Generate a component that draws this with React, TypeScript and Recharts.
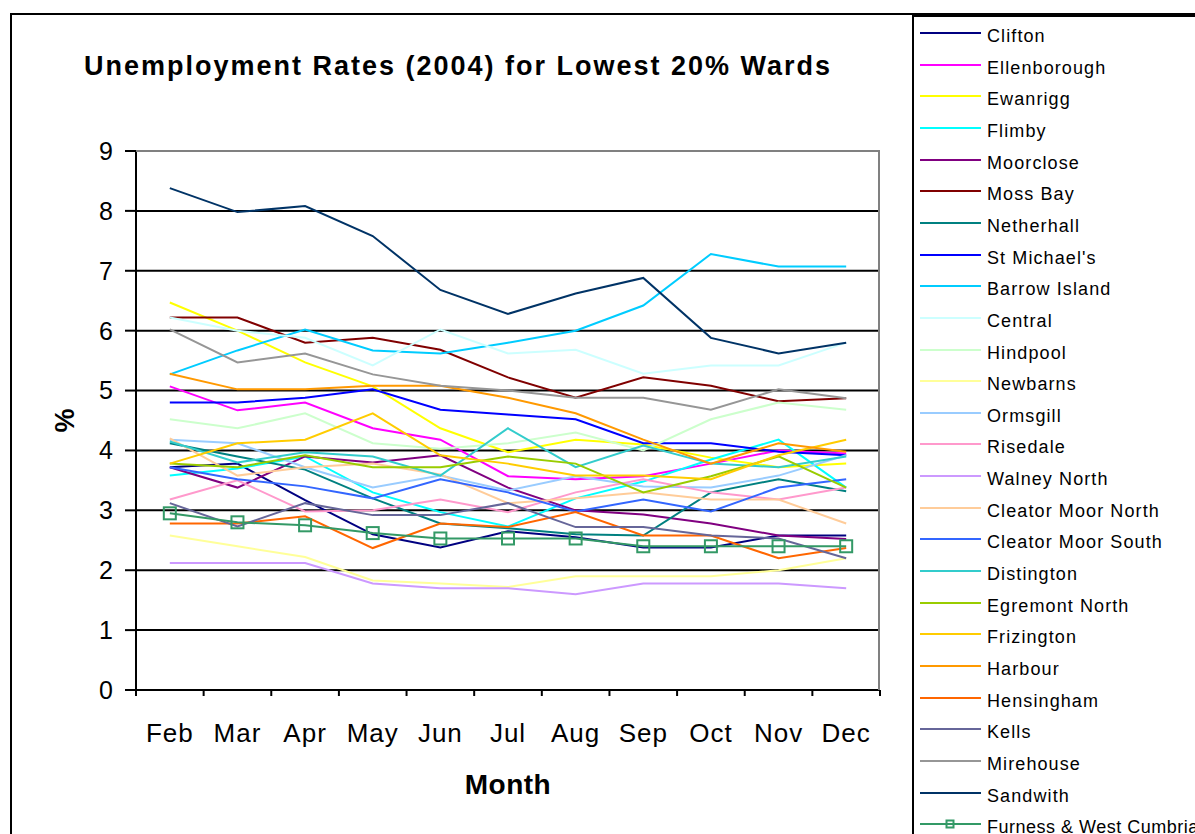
import React from 'react';
import { LineChart, Line, XAxis, YAxis, CartesianGrid, Legend } from 'recharts';

const FONT = 'Arial, "Liberation Sans", Helvetica, sans-serif';

const months = ['Feb', 'Mar', 'Apr', 'May', 'Jun', 'Jul', 'Aug', 'Sep', 'Oct', 'Nov', 'Dec'];
const yTicks = [0, 1, 2, 3, 4, 5, 6, 7, 8, 9];

const wardNames = [
  'Clifton', 'Ellenborough', 'Ewanrigg', 'Flimby', 'Moorclose', 'Moss Bay', 'Netherhall',
  "St Michael's", 'Barrow Island', 'Central', 'Hindpool', 'Newbarns', 'Ormsgill', 'Risedale',
  'Walney North', 'Cleator Moor North', 'Cleator Moor South', 'Distington', 'Egremont North',
  'Frizington', 'Harbour', 'Hensingham', 'Kells', 'Mirehouse', 'Sandwith', 'Furness & West Cumbria',
];

const wardColors = [
  '#000080', '#FF00FF', '#FFFF00', '#00FFFF', '#800080', '#800000', '#008080',
  '#0000FF', '#00CCFF', '#CCFFFF', '#CCFFCC', '#FFFF99', '#99CCFF', '#FF99CC',
  '#CC99FF', '#FFCC99', '#3366FF', '#33CCCC', '#99CC00',
  '#FFCC00', '#FF9900', '#FF6600', '#666699', '#969696', '#003366', '#339966',
];

const clifton = [3.72, 3.78, 3.17, 2.6, 2.38, 2.65, 2.55, 2.38, 2.38, 2.58, 2.58];
const ellenborough = [5.07, 4.67, 4.8, 4.37, 4.18, 3.57, 3.52, 3.57, 3.78, 4.0, 3.95];
const ewanrigg = [6.47, 6.0, 5.47, 5.07, 4.37, 3.97, 4.18, 4.1, 3.88, 3.72, 3.78];
const flimby = [3.58, 3.7, 3.9, 3.3, 2.97, 2.73, 3.2, 3.48, 3.85, 4.18, 3.38];
const moorclose = [3.72, 3.38, 3.9, 3.8, 3.92, 3.38, 3.0, 2.93, 2.78, 2.58, 2.52];
const mossBay = [6.22, 6.22, 5.8, 5.88, 5.68, 5.22, 4.88, 5.22, 5.08, 4.82, 4.87];
const netherhall = [4.12, 3.9, 3.68, 3.2, 2.78, 2.7, 2.6, 2.58, 3.3, 3.52, 3.32];
const stMichaels = [4.8, 4.8, 4.88, 5.02, 4.68, 4.6, 4.52, 4.12, 4.12, 3.98, 3.92];
const barrowIsland = [5.27, 5.67, 6.02, 5.67, 5.62, 5.8, 6.0, 6.42, 7.28, 7.07, 7.07];
const central = [6.22, 6.0, 5.88, 5.42, 6.02, 5.62, 5.68, 5.28, 5.42, 5.42, 5.8];
const hindpool = [4.52, 4.37, 4.62, 4.12, 4.03, 4.12, 4.3, 4.0, 4.52, 4.8, 4.68];
const newbarns = [2.58, 2.4, 2.22, 1.83, 1.78, 1.72, 1.9, 1.9, 1.9, 2.0, 2.2];
const ormsgill = [4.18, 4.12, 3.72, 3.38, 3.58, 3.33, 3.57, 3.4, 3.38, 3.58, 3.92];
const risedale = [3.18, 3.5, 2.98, 3.0, 3.18, 2.97, 3.3, 3.52, 3.3, 3.18, 3.38];
const walneyNorth = [2.12, 2.12, 2.12, 1.78, 1.7, 1.7, 1.6, 1.78, 1.78, 1.78, 1.7];
const cleatorMoorNorth = [4.2, 3.58, 3.72, 3.78, 3.6, 3.12, 3.2, 3.3, 3.18, 3.18, 2.78];
const cleatorMoorSouth = [3.72, 3.52, 3.4, 3.2, 3.52, 3.3, 2.98, 3.18, 2.98, 3.38, 3.52];
const distington = [4.15, 3.8, 3.97, 3.9, 3.58, 4.37, 3.72, 4.08, 3.78, 3.72, 3.9];
const egremontNorth = [3.78, 3.72, 3.92, 3.72, 3.72, 3.9, 3.78, 3.3, 3.57, 3.9, 3.38];
const frizington = [3.78, 4.12, 4.18, 4.62, 3.92, 3.78, 3.58, 3.58, 3.52, 3.92, 4.18];
const harbour = [5.28, 5.02, 5.02, 5.08, 5.08, 4.88, 4.62, 4.18, 3.78, 4.12, 3.98];
const hensingham = [2.78, 2.78, 2.9, 2.37, 2.78, 2.72, 2.97, 2.58, 2.58, 2.2, 2.37];
const kells = [3.12, 2.73, 3.12, 2.92, 2.92, 3.12, 2.72, 2.72, 2.58, 2.53, 2.2];
const mirehouse = [6.02, 5.47, 5.62, 5.27, 5.08, 5.0, 4.88, 4.88, 4.68, 5.02, 4.87];
const sandwith = [8.38, 7.98, 8.08, 7.58, 6.68, 6.28, 6.62, 6.88, 5.88, 5.62, 5.8];
const furnessWestCumbria = [2.95, 2.8, 2.75, 2.62, 2.53, 2.53, 2.53, 2.4, 2.4, 2.4, 2.4];

const seriesValues = [
  clifton, ellenborough, ewanrigg, flimby, moorclose, mossBay, netherhall, stMichaels,
  barrowIsland, central, hindpool, newbarns, ormsgill, risedale, walneyNorth,
  cleatorMoorNorth, cleatorMoorSouth, distington, egremontNorth, frizington, harbour,
  hensingham, kells, mirehouse, sandwith, furnessWestCumbria,
];

const data = months.map((m, i) => {
  const row: Record<string, any> = { month: m };
  seriesValues.forEach((vals, k) => {
    row['s' + k] = vals[i];
  });
  return row;
});

const CHART_W = 1195;
const CHART_H = 834;
const PLOT_LEFT = 136;
const PLOT_RIGHT_MARGIN = 315;
const PLOT_TOP = 151;
const X_AXIS_H = 144;
const BAND = (CHART_W - PLOT_LEFT - PLOT_RIGHT_MARGIN) / months.length;

const MonthTick = (props: any) => {
  const { x, y, payload, index } = props;
  const last = index === months.length - 1;
  return (
    <g>
      <line x1={x - BAND / 2} y1={y} x2={x - BAND / 2} y2={y + 6} stroke="#000" strokeWidth={2} />
      {last && <line x1={x + BAND / 2} y1={y} x2={x + BAND / 2} y2={y + 6} stroke="#000" strokeWidth={2} />}
      <text
        x={x}
        y={y + 52}
        textAnchor="middle"
        fontSize={26}
        letterSpacing={1}
        fill="#000"
        fontFamily={FONT}
      >
        {payload.value}
      </text>
    </g>
  );
};

const SquareDot = (props: any) => {
  const { cx, cy, stroke } = props;
  if (cx == null || cy == null) return null;
  return <rect x={cx - 6} y={cy - 6} width={12} height={12} fill="none" stroke={stroke} strokeWidth={2} />;
};

const LEGEND_ROW = 31.65;

const LegendContent = () => (
  <div
    style={{
      position: 'relative',
      width: 300,
      height: 830,
      border: '2px solid #000',
      boxSizing: 'border-box',
      background: '#fff',
      fontFamily: FONT,
    }}
  >
    {wardNames.map((name, k) => {
      const lineY = 16 + k * LEGEND_ROW;
      const isLast = k === wardNames.length - 1;
      return (
        <div key={name} style={{ position: 'absolute', left: 0, top: lineY - 16, height: 32, width: 300 }}>
          <svg width={70} height={32} style={{ position: 'absolute', left: 5, top: 0 }}>
            <line x1={1} y1={16} x2={62} y2={16} stroke={wardColors[k]} strokeWidth={2} />
            {isLast && <rect x={27.5} y={12.5} width={7} height={7} fill="none" stroke={wardColors[k]} strokeWidth={2} />}
          </svg>
          <span
            style={{
              position: 'absolute',
              left: 73,
              top: 8,
              fontSize: 18,
              letterSpacing: isLast ? 0.5 : 1.1,
              lineHeight: '22px',
              color: '#000',
              whiteSpace: 'nowrap',
            }}
          >
            {name}
          </span>
        </div>
      );
    })}
  </div>
);

export default function App() {
  return (
    <div
      style={{
        position: 'absolute',
        left: 0,
        top: 0,
        width: CHART_W,
        height: CHART_H,
        background: '#fff',
        overflow: 'hidden',
        fontFamily: FONT,
      }}
    >
      <div
        style={{
          position: 'absolute',
          left: 10,
          top: 13,
          width: 1200,
          height: 840,
          border: '2px solid #000',
          boxSizing: 'border-box',
        }}
      />
      <div
        style={{
          position: 'absolute',
          left: 2,
          width: 912,
          top: 49,
          textAlign: 'center',
          fontWeight: 'bold',
          fontSize: 27,
          letterSpacing: 2,
          lineHeight: '34px',
          color: '#000',
        }}
      >
        Unemployment Rates (2004) for Lowest 20% Wards
      </div>
      <div style={{ position: 'absolute', left: 0, top: 0 }}>
        <LineChart
          width={CHART_W}
          height={CHART_H}
          data={data}
          margin={{ top: PLOT_TOP, right: PLOT_RIGHT_MARGIN, bottom: 0, left: 0 }}
        >
          <CartesianGrid vertical={false} stroke="#000" strokeWidth={2} />
          <XAxis
            dataKey="month"
            height={X_AXIS_H}
            padding={{ left: BAND / 2, right: BAND / 2 }}
            axisLine={{ stroke: '#000', strokeWidth: 2 }}
            tickLine={false}
            tickSize={0}
            tickMargin={0}
            interval={0}
            tick={<MonthTick />}
            label={{
              value: 'Month',
              position: 'insideBottom',
              offset: 40,
              style: { fontSize: 28, fontWeight: 'bold', fill: '#000', fontFamily: FONT, letterSpacing: 0.5 },
            }}
          />
          <YAxis
            width={PLOT_LEFT}
            domain={[0, 9]}
            ticks={yTicks}
            interval={0}
            axisLine={{ stroke: '#000', strokeWidth: 2 }}
            tickLine={{ stroke: '#000', strokeWidth: 2 }}
            tickSize={11}
            tickMargin={12}
            tick={{ fontSize: 25, fill: '#000', fontFamily: FONT }}
            label={{
              value: '%',
              angle: -90,
              position: 'insideLeft',
              offset: 64,
              style: { fontSize: 27, fontWeight: 'bold', fill: '#000', fontFamily: FONT, textAnchor: 'middle' },
            }}
          />
          {wardNames.map((name, k) => (
            <Line
              key={name}
              type="linear"
              dataKey={'s' + k}
              name={name}
              stroke={wardColors[k]}
              strokeWidth={2}
              dot={k === wardNames.length - 1 ? <SquareDot /> : false}
              activeDot={false}
              isAnimationActive={false}
            />
          ))}
          <Legend
            layout="vertical"
            align="center"
            verticalAlign="middle"
            content={<LegendContent />}
            wrapperStyle={{ left: 912, top: 15, width: 300, height: 830 }}
          />
        </LineChart>
      </div>
      <div
        style={{
          position: 'absolute',
          left: PLOT_LEFT,
          top: PLOT_TOP - 1,
          width: CHART_W - PLOT_LEFT - PLOT_RIGHT_MARGIN,
          height: 540,
          borderTop: '2px solid #808080',
          borderRight: '2px solid #808080',
          boxSizing: 'border-box',
          pointerEvents: 'none',
        }}
      />
    </div>
  );
}
